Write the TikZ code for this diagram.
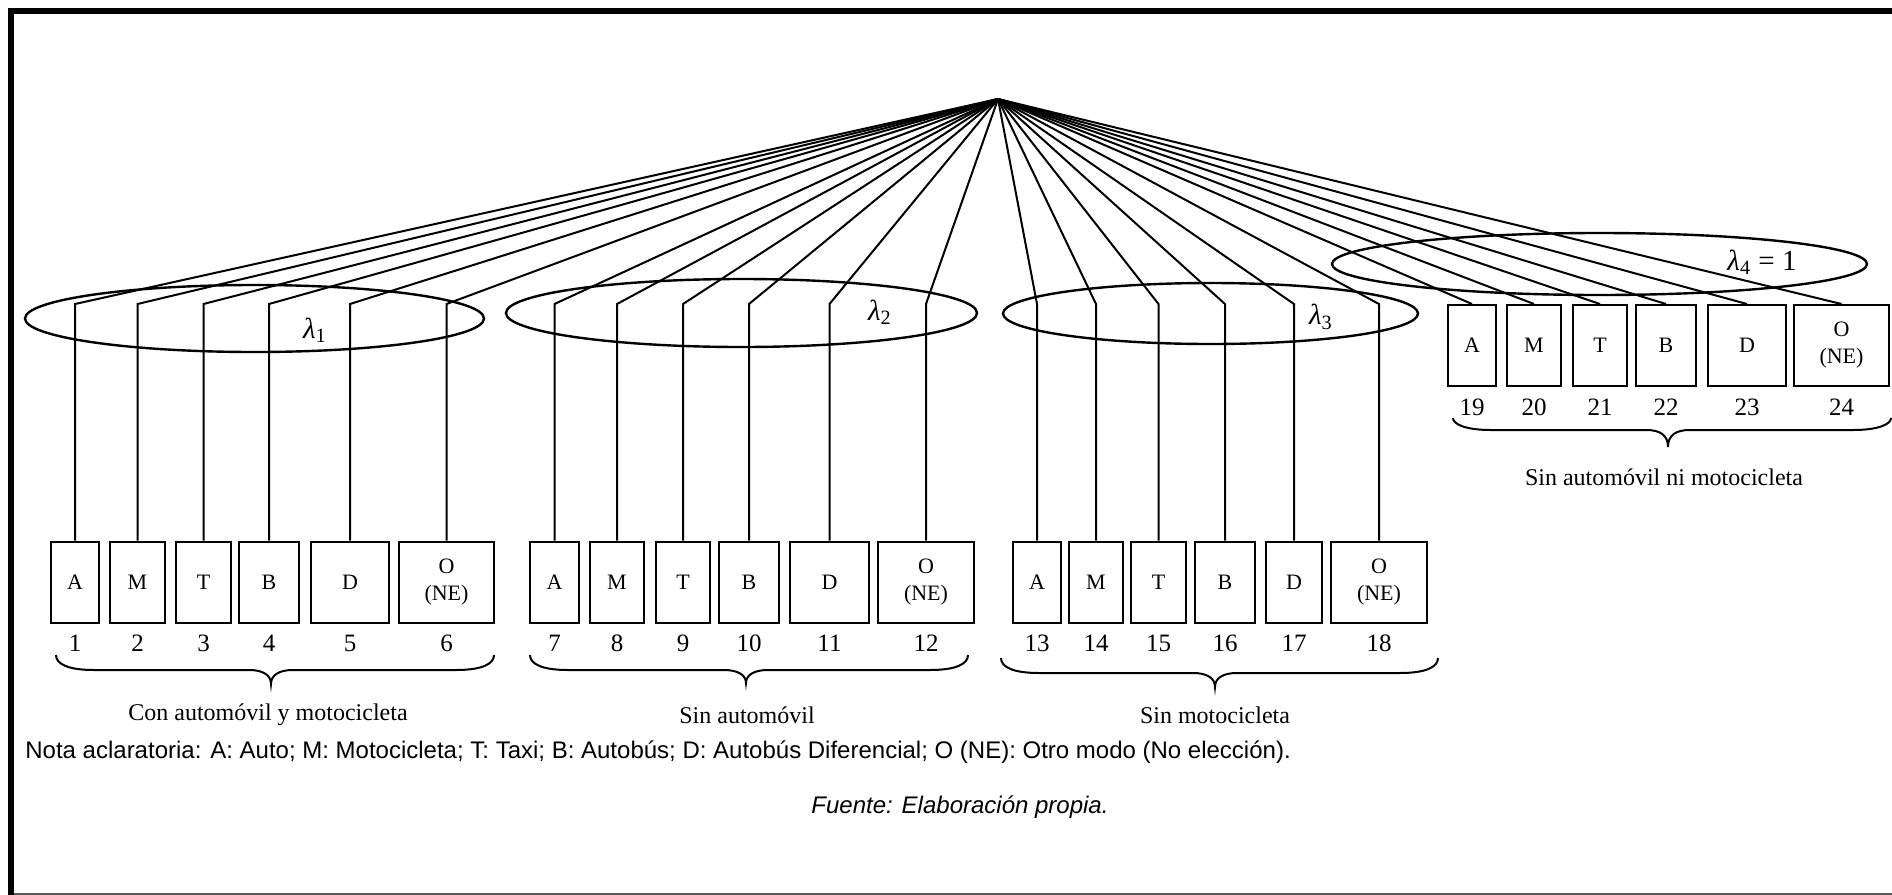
\documentclass[tikz,border=0pt]{standalone}
\usepackage{fontspec}
\setmainfont{Liberation Serif}
\setsansfont{Liberation Sans}
\usetikzlibrary{calc}

\tikzset{
  modebox/.style={draw, line width=1pt, minimum height=40.5pt, inner sep=0pt,
    align=center, font=\fontsize{11}{13.5}\selectfont},
  link/.style={line width=1pt},
  nest/.style={line width=1.2pt},
  idx/.style={inner sep=0pt, font=\fontsize{12.5}{14}\selectfont},
  grp/.style={inner sep=0pt, font=\fontsize{12}{14}\selectfont},
  lam/.style={inner sep=0pt, font=\fontsize{14.5}{16}\selectfont},
  bracket/.style={line width=1pt},
  note/.style={inner sep=0pt, font=\sffamily\fontsize{12}{14}\selectfont},
}

% curly brace under a group: x-left, x-right, x-middle, y-tips, y-bar, y-point
\newcommand\modebrace[6]{%
  \draw[bracket] (#1,#4) .. controls (#1,{#5-6}) and ({#1+12},#5) .. ({#1+38},#5)
    -- ({#3-22},#5) .. controls ({#3-8},#5) and (#3,{#5+5}) .. (#3,#6)
    .. controls (#3,{#5+5}) and ({#3+8},#5) .. ({#3+22},#5)
    -- ({#2-38},#5) .. controls ({#2-12},#5) and (#2,{#5-6}) .. (#2,#4);}

\begin{document}
\begin{tikzpicture}[x=0.5pt,y=-0.5pt]
\useasboundingbox (0,0) rectangle (1892,895);

% frame
\fill (8,8) rectangle (1892,14);
\fill (8,8) rectangle (14,895);
\draw[black!65, line width=0.6pt] (14,894) -- (1892,894);

% root and bend level
\coordinate (apex) at (998,99);
\coordinate (bend) at (0,304);

% group 1: con automovil y motocicleta
\node[modebox, minimum width=24pt]   (b1)  at (75,582)    {A};
\node[modebox, minimum width=27.5pt] (b2)  at (137.5,582) {M};
\node[modebox, minimum width=27.5pt] (b3)  at (203.5,582) {T};
\node[modebox, minimum width=30pt]   (b4)  at (269,582)   {B};
\node[modebox, minimum width=39pt]   (b5)  at (350,582)   {D};
\node[modebox, minimum width=47.5pt] (b6)  at (446.5,582) {O\\(NE)};
% group 2: sin automovil
\node[modebox, minimum width=24.5pt] (b7)  at (554.5,582) {A};
\node[modebox, minimum width=27pt]   (b8)  at (617,582)   {M};
\node[modebox, minimum width=27pt]   (b9)  at (683,582)   {T};
\node[modebox, minimum width=30pt]   (b10) at (749,582)   {B};
\node[modebox, minimum width=39.5pt] (b11) at (829.5,582) {D};
\node[modebox, minimum width=48pt]   (b12) at (926,582)   {O\\(NE)};
% group 3: sin motocicleta
\node[modebox, minimum width=24pt]   (b13) at (1037,582)   {A};
\node[modebox, minimum width=27pt]   (b14) at (1096,582)   {M};
\node[modebox, minimum width=27.5pt] (b15) at (1158.5,582) {T};
\node[modebox, minimum width=30pt]   (b16) at (1225,582)   {B};
\node[modebox, minimum width=28pt]   (b17) at (1294,582)   {D};
\node[modebox, minimum width=48pt]   (b18) at (1379,582)   {O\\(NE)};
% group 4: sin automovil ni motocicleta
\node[modebox, minimum width=24pt]   (b19) at (1472,345.5)   {A};
\node[modebox, minimum width=27pt]   (b20) at (1534,345.5)   {M};
\node[modebox, minimum width=27pt]   (b21) at (1600,345.5)   {T};
\node[modebox, minimum width=30pt]   (b22) at (1666,345.5)   {B};
\node[modebox, minimum width=39pt]   (b23) at (1747,345.5)   {D};
\node[modebox, minimum width=47.5pt] (b24) at (1841.5,345.5) {O\\(NE)};

% alternative numbers
\foreach \i in {1,...,24}
  \node[idx] (n\i) at ($(b\i.south)+(0,20)$) {\i};

% connectors from the root
\foreach \i in {1,...,18}
  \draw[link] (apex) -- (b\i.north |- bend) -- (b\i.north);
\foreach \i in {19,...,24}
  \draw[link] (apex) -- (b\i.north);

% nests
\draw[nest] (254.5,318.5) ellipse [x radius=229.5, y radius=33.5];
\draw[nest] (741.5,313)   ellipse [x radius=235.5, y radius=34];
\draw[nest] (1210.5,313.5) ellipse [x radius=207.5, y radius=30.5];
\draw[nest] (1599.5,264)  ellipse [x radius=267.5, y radius=31];

\node[lam] (l1) at (315,330)  {{\itshape λ}\textsubscript{1}};
\node[lam] (l2) at (880,312)  {{\itshape λ}\textsubscript{2}};
\node[lam] (l3) at (1321,317) {{\itshape λ}\textsubscript{3}};
\node[lam] (l4) at (1762,262) {{\itshape λ}\textsubscript{4} = 1};

% braces and group names
\modebrace{56}{494}{271}{655}{670}{684}
\modebrace{530}{968}{746}{655}{670}{683}
\modebrace{1001}{1438}{1215}{658}{673}{687}
\modebrace{1453}{1891}{1668}{418}{430}{447}

\node[grp] (g1) at (268,715)  {Con automóvil y motocicleta};
\node[grp] (g2) at (747,715)  {Sin automóvil};
\node[grp] (g3) at (1215,715) {Sin motocicleta};
\node[grp] (g4) at (1664,477) {Sin automóvil ni motocicleta};

% notes
\node[note, anchor=west] (nota) at (25,752)
  {Nota aclaratoria: A: Auto; M: Motocicleta; T: Taxi; B: Autobús; D: Autobús Diferencial; O (NE): Otro modo (No elección).};
\node[note, font=\sffamily\itshape\fontsize{12}{14}\selectfont] (src) at (960,807)
  {Fuente: Elaboración propia.};
\end{tikzpicture}
\end{document}
